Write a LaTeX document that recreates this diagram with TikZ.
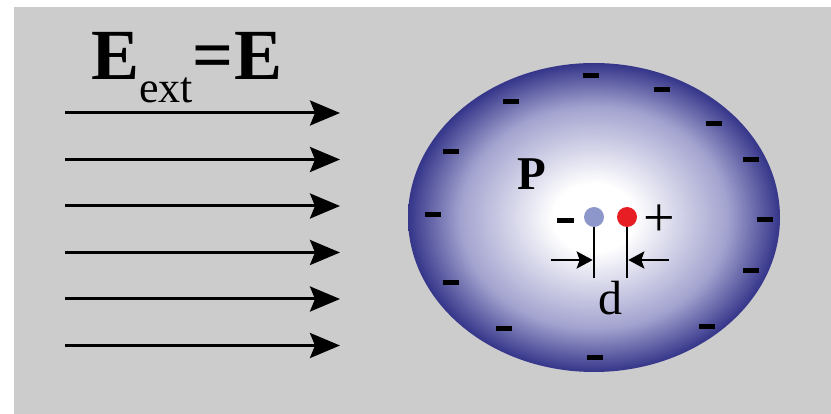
\documentclass[tikz,border=0pt]{standalone}
\usepackage{fontspec}
\setmainfont{Liberation Serif}
\usetikzlibrary{arrows.meta}
\definecolor{BgGray}{HTML}{CCCCCC}
\definecolor{CellEdge}{HTML}{35358A}
\definecolor{CellMid}{HTML}{A2A2CF}
\definecolor{NegDot}{HTML}{8E97C9}
\definecolor{PosDot}{HTML}{E81E25}
\pgfdeclareradialshading{cellglow}{\pgfpoint{0bp}{0bp}}{color(0bp)=(white); color(5.5bp)=(white); color(18bp)=(CellMid); color(25bp)=(CellEdge); color(50bp)=(CellEdge)}

\begin{document}
\begin{tikzpicture}[x=1pt,y=-1pt,
  fieldline/.style={line width=3pt,-{Stealth[length=30pt,width=25pt,inset=5pt]}},
  gapline/.style={line width=2.6pt,-{Stealth[length=16pt,width=17pt,inset=3pt]}},
  charge/.style={circle,inner sep=0pt,minimum size=20pt}]
\useasboundingbox (0,0) rectangle (831,414);
\fill[BgGray] (14,7) rectangle (831,414);
% external field
\foreach \y in {113,159.5,206,252.5,299,345.5}
  \draw[fieldline] (65,\y) -- (340,\y);
\node[anchor=base west,inner sep=0pt] (eext) at (91,80) {\fontsize{72}{72}\selectfont\bfseries E\raisebox{-23pt}{\mdseries\fontsize{44}{44}\selectfont ext}=E};
% polarized sphere
\shade[shading=cellglow] (594,217.5) ellipse [x radius=186pt,y radius=154.5pt];
\foreach \p in {(591,76),(662,90),(511,102),(714,124),(451,152),(751,160),(433,215),(765,220),(751,271),(451,283),(504,329),(707,327),(595,358)}
  \fill \p ++(-8,-2.5) rectangle ++(16,5);
\node[anchor=base west,inner sep=0pt,font=\fontsize{47}{47}\selectfont\bfseries] (pol) at (517,190) {P};
% dipole
\node[charge,fill=NegDot] (neg) at (594,217) {};
\node[charge,fill=PosDot] (pos) at (627,217) {};
\fill (557,218) rectangle (574,223);
\node[inner sep=0pt,font=\fontsize{56}{56}\selectfont] (plus) at (659,221) {+};
\draw[line width=2.6pt] (neg.south) -- ++(0,51) coordinate (negfoot);
\draw[line width=2.6pt] (pos.south) -- ++(0,51) coordinate (posfoot);
\coordinate (gapL) at (592.7,260);
\coordinate (gapR) at (628.3,260);
\coordinate (inL) at (551,260);
\coordinate (inR) at (669,260);
\draw[gapline] (inL) -- (gapL);
\draw[gapline] (inR) -- (gapR);
\node[anchor=base,inner sep=0pt,font=\fontsize{48}{48}\selectfont] (dist) at (610,315) {d};
\end{tikzpicture}
\end{document}
